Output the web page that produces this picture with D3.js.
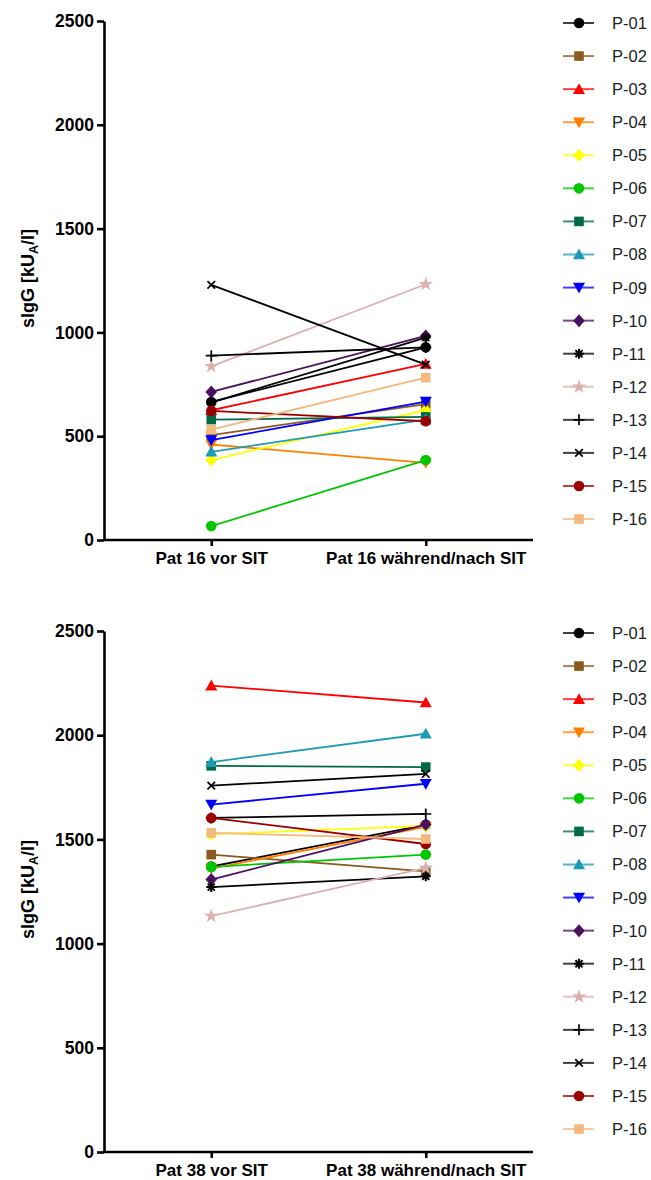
<!DOCTYPE html>
<html>
<head>
<meta charset="utf-8">
<script src="https://cdn.jsdelivr.net/npm/d3@7"></script>
<style>
  body { margin: 0; background: #fff; }
  svg { display: block; font-family: Arial, "Liberation Sans", sans-serif; }
</style>
</head>
<body>
<div id="container"></div>
<script>
// patients and measured values (sIgG, kUA/l)
var patients = ["P-01", "P-02", "P-03", "P-04", "P-05", "P-06", "P-07", "P-08",
                "P-09", "P-10", "P-11", "P-12", "P-13", "P-14", "P-15", "P-16"];

var cats16 = ["Pat 16 vor SIT", "Pat 16 während/nach SIT"];
var pat16Vor  = [665, 505, 625, 460, 385, 67, 580, 425, 481, 713, 662, 836, 888, 1229, 622, 532];
var pat16Nach = [928, 655, 848, 372, 625, 385, 593, 580, 667, 983, 975, 1232, 928, 845, 572, 782];

var cats38 = ["Pat 38 vor SIT", "Pat 38 während/nach SIT"];
var pat38Vor  = [1370, 1427, 2238, 1360, 1525, 1368, 1853, 1871, 1667, 1307, 1271, 1132, 1603, 1758, 1603, 1531];
var pat38Nach = [1570, 1347, 2157, 1560, 1565, 1427, 1847, 2007, 1767, 1571, 1323, 1363, 1622, 1814, 1478, 1502];

var yTicks = [0, 500, 1000, 1500, 2000, 2500];

var colors = ["#000000", "#8c5a1f", "#ff0000", "#ff7f00", "#ffff00", "#00c800", "#006a47", "#1b9bb5",
              "#0000ff", "#4a0f5e", "#000000", "#ddb0b0", "#000000", "#000000", "#9b0000", "#f3b97e"];
var shapes = ["circle", "square", "triangle", "triangleDown", "diamond", "circle", "square", "triangle",
              "triangleDown", "diamond", "asterisk", "star", "plus", "cross", "circle", "square"];

var w = 651, h = 1180;

var svg = d3.select("div#container")
  .append("svg")
  .attr("width", w)
  .attr("height", h)
  .attr("viewBox", `0 0 ${w} ${h}`);

// marker outline for each shape, centred on 0,0
function markerPath(shape) {
  var p = d3.path();
  if (shape == "circle") {
    p.arc(0, 0, 5.3, 0, 2 * Math.PI);
  } else if (shape == "square") {
    p.rect(-4.8, -4.8, 9.6, 9.6);
  } else if (shape == "triangle") {
    p.moveTo(0, -6); p.lineTo(6, 4.8); p.lineTo(-6, 4.8); p.closePath();
  } else if (shape == "triangleDown") {
    p.moveTo(0, 6); p.lineTo(6, -4.8); p.lineTo(-6, -4.8); p.closePath();
  } else if (shape == "diamond") {
    p.moveTo(0, -6.5); p.lineTo(5.8, 0); p.lineTo(0, 6.5); p.lineTo(-5.8, 0); p.closePath();
  } else if (shape == "star") {
    return d3.symbol(d3.symbolStar, 64)();
  } else if (shape == "plus") {
    p.moveTo(-5.5, 0); p.lineTo(5.5, 0); p.moveTo(0, -5.5); p.lineTo(0, 5.5);
  } else if (shape == "cross") {
    p.moveTo(-3.8, -3.8); p.lineTo(3.8, 3.8); p.moveTo(3.8, -3.8); p.lineTo(-3.8, 3.8);
  } else if (shape == "asterisk") {
    for (var i = 0; i < 4; i++) {
      var a = i * Math.PI / 4, r = 5;
      p.moveTo(-r * Math.cos(a), -r * Math.sin(a));
      p.lineTo(r * Math.cos(a), r * Math.sin(a));
    }
  }
  return p.toString();
}

function isStroked(shape) {
  return shape == "plus" || shape == "cross" || shape == "asterisk";
}

function drawMarker(sel, i) {
  var shape = shapes[i];
  sel.append("path")
    .attr("d", markerPath(shape))
    .attr("fill", isStroked(shape) ? "none" : colors[i])
    .attr("stroke", isStroked(shape) ? colors[i] : "none")
    .attr("stroke-width", shape == "asterisk" ? 2 : 1.7);
}

function drawChart(cats, vor, nach, yTop, yBottom) {
  var g = svg.append("g");

  var x = d3.scalePoint()
    .domain(cats)
    .range([104, 533])
    .padding(0.5);

  var y = d3.scaleLinear()
    .domain([0, 2500])
    .range([yBottom, yTop]);

  // lines + markers per patient
  var series = patients.map(function(p, i) {
    return { name: p, i: i, values: [{ c: cats[0], v: vor[i] }, { c: cats[1], v: nach[i] }] };
  });

  var line = d3.line()
    .x(function(d) { return x(d.c); })
    .y(function(d) { return y(d.v); });

  var sg = g.append("g").selectAll("g")
    .data(series)
    .enter().append("g");

  sg.append("path")
    .attr("d", function(d) { return line(d.values); })
    .attr("fill", "none")
    .attr("stroke", function(d) { return colors[d.i]; })
    .attr("stroke-width", 1.8);

  sg.each(function(d) {
    var s = d3.select(this);
    d.values.forEach(function(pt) {
      var m = s.append("g").attr("transform", `translate(${x(pt.c)},${y(pt.v)})`);
      drawMarker(m, d.i);
    });
  });

  // axes
  var yAxis = g.append("g")
    .attr("transform", "translate(104,0)")
    .call(d3.axisLeft(y).tickValues(yTicks).tickSize(7).tickSizeOuter(0).tickPadding(3).tickFormat(d3.format("d")));

  var xAxis = g.append("g")
    .attr("transform", `translate(0,${yBottom})`)
    .call(d3.axisBottom(x).tickSize(6).tickSizeOuter(0).tickPadding(6));

  xAxis.select(".domain").attr("d", `M104,0H533`);

  [yAxis, xAxis].forEach(function(a) {
    a.selectAll("path, line").attr("stroke", "#000").attr("stroke-width", 2.6);
    a.selectAll("text")
      .attr("fill", "#000")
      .style("font-weight", "bold");
  });
  yAxis.selectAll("text").style("font-size", "17.5px");
  xAxis.selectAll("text").style("font-size", "17px");

  // y label
  var lab = g.append("text")
    .attr("transform", `translate(34,${(yTop + yBottom) / 2 - 2}) rotate(-90)`)
    .attr("text-anchor", "middle")
    .style("font-size", "18px")
    .style("font-weight", "bold");
  lab.append("tspan").text("sIgG [kU");
  lab.append("tspan").attr("dy", 4).style("font-size", "12.5px").text("A");
  lab.append("tspan").attr("dy", -4).text("/l]");

  // legend
  var leg = g.append("g").selectAll("g")
    .data(patients)
    .enter().append("g")
    .attr("transform", function(d, i) { return `translate(579,${yTop + 2 + i * 33.07})`; });

  leg.append("line")
    .attr("x1", -16).attr("x2", 15)
    .attr("stroke", function(d, i) { return colors[i]; })
    .attr("stroke-opacity", 0.75)
    .attr("stroke-width", 2);

  leg.each(function(d, i) { drawMarker(d3.select(this), i); });

  leg.append("text")
    .attr("x", 33)
    .attr("dy", "0.36em")
    .attr("fill", "#222")
    .style("font-size", "16.5px")
    .text(function(d) { return d; });
}

drawChart(cats16, pat16Vor, pat16Nach, 21, 540);
drawChart(cats38, pat38Vor, pat38Nach, 631, 1152);
</script>
</body>
</html>
